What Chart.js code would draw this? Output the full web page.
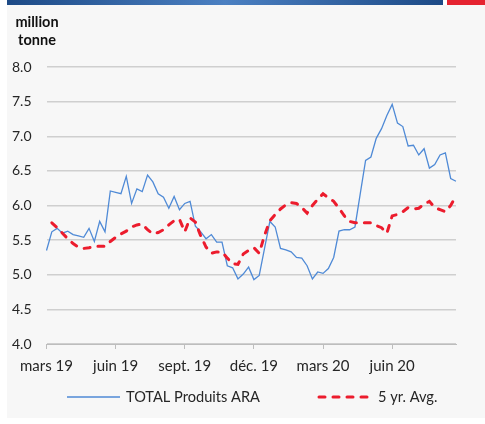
<!DOCTYPE html>
<html>
<head>
<meta charset="utf-8">
<script src="https://cdn.jsdelivr.net/npm/chart.js@4.4.1/dist/chart.umd.min.js"></script>
<style>
  html, body { margin: 0; padding: 0; background: #fff; }
  body { width: 485px; height: 424px; position: relative; overflow: hidden; font-family: Lato, "Open Sans", sans-serif; }
  #panel { position: absolute; left: 7px; top: 5px; width: 478px; height: 413px; background: #f7f7f7; }
  #barBlue { position: absolute; left: 7px; top: 0; width: 436px; height: 5px;
    background: linear-gradient(90deg, #1d4a86 0%, #4b80c2 50%, #1d4a86 100%); }
  #barRed { position: absolute; left: 447px; top: 0; width: 38px; height: 5px; background: #e52330; }
  #unit { position: absolute; left: 12px; top: 13px; width: 50px; text-align: center;
    font-weight: bold; font-size: 14.5px; line-height: 18px; color: #111; }
  #chart { position: absolute; left: 0; top: 0; }
</style>
</head>
<body>
<div id="panel"></div>
<div id="barBlue"></div>
<div id="barRed"></div>
<canvas id="chart" width="485" height="424"></canvas>
<div id="unit">million<br>tonne</div>
<script>
// weekly values, million tonnes (mars 2019 -> sept. 2020)
const totalARA = [
  5.35, 5.62, 5.67, 5.60, 5.63, 5.58, 5.56, 5.54, 5.67, 5.48,
  5.77, 5.62, 6.21, 6.19, 6.17, 6.42, 6.03, 6.24, 6.20, 6.44,
  6.34, 6.17, 6.12, 5.96, 6.13, 5.94, 6.03, 6.06, 5.70, 5.62,
  5.52, 5.58, 5.47, 5.47, 5.13, 5.10, 4.94, 5.01, 5.11, 4.93,
  4.99, 5.38, 5.77, 5.69, 5.38, 5.36, 5.33, 5.25, 5.24, 5.13,
  4.94, 5.04, 5.02, 5.09, 5.25, 5.63, 5.65, 5.65, 5.69, 6.17,
  6.65, 6.70, 6.97, 7.11, 7.30, 7.46, 7.19, 7.14, 6.86, 6.87,
  6.73, 6.82, 6.54, 6.59, 6.73, 6.76, 6.39, 6.35
];
const avg5yr = [
  null, 5.75, 5.68, 5.60, 5.52, 5.45, 5.40, 5.38, 5.39, 5.41,
  5.41, 5.41, 5.48, 5.54, 5.59, 5.63, 5.69, 5.72, 5.73, 5.65,
  5.59, 5.61, 5.65, 5.72, 5.78, 5.80, 5.62, 5.82, 5.76, 5.56,
  5.40, 5.31, 5.33, 5.33, 5.24, 5.16, 5.15, 5.30, 5.35, 5.39,
  5.31, 5.57, 5.78, 5.87, 5.95, 6.01, 6.04, 6.03, 5.97, 5.89,
  6.00, 6.09, 6.17, 6.11, 6.06, 5.96, 5.85, 5.77, 5.75, 5.75,
  5.75, 5.75, 5.71, 5.68, 5.60, 5.85, 5.87, 5.91, 5.97, 5.95,
  5.96, 6.02, 6.06, 5.97, 5.94, 5.91, 6.00, 6.14
];
const tickLabels = ['mars 19', 'juin 19', 'sept. 19', 'déc. 19', 'mars 20', 'juin 20'];
const weeksPerTick = 13;

const weeks = totalARA.map((_, i) => i);
const FONT = 'Lato, "Open Sans", sans-serif';
const TEXT = '#262626';

// legend drawn under the axis, like the original
const bottomLegend = {
  id: 'bottomLegend',
  afterDraw(chart) {
    const c = chart.ctx;
    const y = 397;
    const spots = [67, 319];
    c.save();
    c.font = '14.6px ' + FONT;
    c.textBaseline = 'middle';
    chart.data.datasets.forEach((ds, i) => {
      const x = spots[i];
      c.beginPath();
      c.strokeStyle = ds.borderColor;
      c.lineWidth = ds.borderWidth;
      c.lineCap = ds.borderCapStyle || 'butt';
      c.setLineDash(ds.borderDash || []);
      c.moveTo(x, y);
      c.lineTo(x + 53, y);
      c.stroke();
      c.setLineDash([]);
      c.fillStyle = TEXT;
      c.fillText(ds.label, x + 59, y);
    });
    c.restore();
  }
};

new Chart(document.getElementById('chart').getContext('2d'), {
  type: 'line',
  data: {
    labels: weeks,
    datasets: [{
      label: 'TOTAL Produits ARA',
      data: totalARA,
      borderColor: '#4f8ad6',
      borderWidth: 1.3,
      pointRadius: 0,
      tension: 0,
      order: 1
    }, {
      label: '5 yr. Avg.',
      data: avg5yr,
      borderColor: '#ec1c2d',
      borderWidth: 3,
      borderDash: [6, 8],
      borderCapStyle: 'round',
      pointRadius: 0,
      tension: 0,
      order: 0
    }]
  },
  options: {
    responsive: false,
    animation: false,
    devicePixelRatio: 1,
    layout: { padding: { top: 67, right: 29, left: 0, bottom: 0 } },
    plugins: {
      legend: { display: false },
      tooltip: { enabled: false }
    },
    scales: {
      x: {
        type: 'category',
        offset: false,
        grid: { drawOnChartArea: false, drawTicks: true, tickLength: 5, color: '#bdbdbd' },
        border: { display: true, color: '#bdbdbd', width: 1 },
        ticks: {
          autoSkip: false,
          maxRotation: 0,
          padding: 8,
          color: TEXT,
          font: { size: 15, family: FONT },
          callback: v => tickLabels[v / weeksPerTick]
        },
        afterBuildTicks: s => { s.ticks = s.ticks.filter(t => t.value % weeksPerTick === 0); },
        afterFit: s => { s.height = 80; }
      },
      y: {
        min: 4,
        max: 8,
        ticks: {
          stepSize: 0.5,
          padding: 15,
          color: TEXT,
          font: { size: 14, family: FONT },
          callback: v => v.toFixed(1)
        },
        grid: { color: '#cfcfcf', lineWidth: 1.5, drawTicks: false },
        border: { display: false },
        afterFit: s => { s.width = 46.5; }
      }
    }
  },
  plugins: [bottomLegend]
});
</script>
</body>
</html>
